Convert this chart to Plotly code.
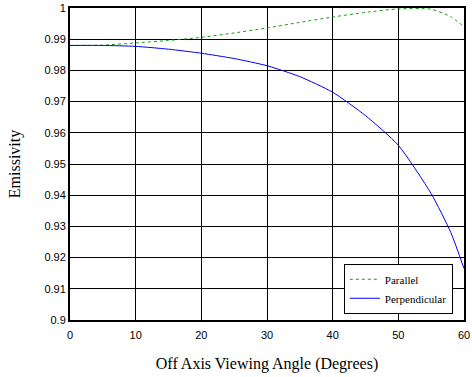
import plotly.graph_objects as go

# Viewing angle (degrees) and emissivity for each polarisation
angle = [0, 5, 10, 15, 20, 25, 30, 35, 40, 45, 50, 55, 58, 60]
parallel = [0.9880, 0.9881, 0.9888, 0.9896, 0.9906, 0.9920, 0.9936, 0.9954,
            0.9971, 0.9986, 0.9997, 0.9996, 0.9972, 0.9940]
perpendicular = [0.9880, 0.9880, 0.9877, 0.9868, 0.9855, 0.9838, 0.9815, 0.9780,
                 0.9730, 0.9655, 0.9560, 0.9405, 0.9280, 0.9165]

x_ticks = [0, 10, 20, 30, 40, 50, 60]
y_ticks = [0.90, 0.91, 0.92, 0.93, 0.94, 0.95, 0.96, 0.97, 0.98, 0.99, 1.00]
y_tick_text = ["0.9", "0.91", "0.92", "0.93", "0.94", "0.95", "0.96", "0.97",
               "0.98", "0.99", "1"]

fig = go.Figure()
fig.add_trace(go.Scatter(
    x=angle, y=parallel, mode="lines", name="Parallel",
    line=dict(color="#1a9a1a", width=1, dash="dot", shape="spline", smoothing=0.6),
))
fig.add_trace(go.Scatter(
    x=angle, y=perpendicular, mode="lines", name="Perpendicular",
    line=dict(color="#0000ff", width=1, shape="spline", smoothing=0.6),
))

axis_common = dict(
    showline=True, linecolor="black", linewidth=2, mirror=True,
    showgrid=True, gridcolor="black", gridwidth=1,
    zeroline=False, ticks="", ticklabeloverflow="allow",
    tickfont=dict(family="Liberation Sans, Arial", size=11, color="black"),
)

fig.update_layout(
    width=472, height=377,
    margin=dict(l=70, r=2, t=6, b=57),
    paper_bgcolor="white", plot_bgcolor="white",
    xaxis=dict(range=[0, 60], tickvals=x_ticks, ticklabelstandoff=4,
               title=dict(text="Off Axis Viewing Angle (Degrees)",
                          font=dict(family="Liberation Serif, Times New Roman", size=16, color="black"),
                          standoff=18),
               **axis_common),
    yaxis=dict(range=[0.9, 1.0], tickvals=y_ticks, ticktext=y_tick_text,
               title=dict(text="Emissivity",
                          font=dict(family="Liberation Serif, Times New Roman", size=16, color="black"),
                          standoff=20),
               **axis_common),
    legend=dict(
        x=0.695, y=0.02, xanchor="left", yanchor="bottom",
        bgcolor="white", bordercolor="black", borderwidth=1,
        font=dict(family="Liberation Serif, Times New Roman", size=11, color="black"),
        tracegroupgap=0, itemwidth=30,
    ),
    showlegend=True,
)

fig.write_html("out.html")
